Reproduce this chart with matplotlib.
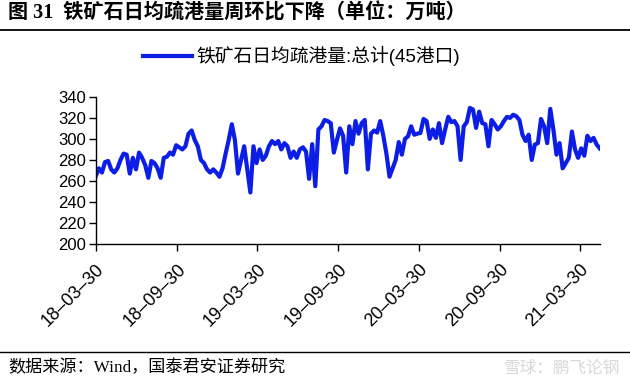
import numpy as np
import pandas as pd
import matplotlib
matplotlib.use('Agg')
import matplotlib.pyplot as plt
import matplotlib.dates as mdates

# weekly iron ore port clearance, 45 ports (10k t/day)
vals_a = [264.5, 272, 268, 278, 279, 271, 268, 272, 280, 286, 285, 267, 282, 271,
          287, 282, 275, 263, 279, 277, 272, 263, 282, 283, 287, 285, 294, 292, 290,
          293, 305, 308, 299, 293, 280, 277, 271, 268, 271, 268, 264, 272, 286, 299,
          314, 299, 267, 280, 293, 271, 249, 293, 277, 290, 280, 284, 293, 298, 295,
          298, 290, 296, 293, 282, 288, 282, 290, 292, 288, 262, 295, 255, 309]
vals_b = [312, 318, 317, 315, 287, 299, 310, 303, 268, 312, 295, 317, 305, 315, 318,
          271, 305, 308, 306, 317, 303, 286, 264, 272, 280]
vals_c = [297, 285, 300, 302.5, 312, 304, 305, 305.7, 319, 317, 300, 309, 301, 315,
          296, 309, 321, 316, 317, 312, 280, 312, 316, 329.5, 328, 310.5, 326, 315,
          314, 293, 318, 314, 309, 312, 317, 321, 320, 323, 321.6, 318, 304, 298, 304,
          280, 294.6, 296, 319, 312, 296, 328.6, 309, 285, 296, 272, 277, 282, 307,
          290, 282, 291, 284, 303, 298, 301, 294.6, 291]
values = vals_a + vals_b + vals_c
dates = pd.date_range('2018-03-30', periods=len(values), freq='7D')

tick_dates = pd.to_datetime(['2018-03-30', '2018-09-30', '2019-03-30', '2019-09-30',
                             '2020-03-30', '2020-09-30', '2021-03-30'])
yticks = np.arange(200, 341, 20)

title = '图 31  铁矿石日均疏港量周环比下降（单位：万吨）'
legend_label = '铁矿石日均疏港量:总计(45港口)'
source = '数据来源：Wind，国泰君安证券研究'

serif_cjk = ['Liberation Serif', 'Noto Sans CJK SC']
sans_cjk = ['Liberation Sans', 'Noto Sans CJK SC']

fig = plt.figure(figsize=(6.3, 3.83), dpi=100)
ax = fig.add_axes([0.152, 0.363, 0.800, 0.384])

ax.plot(dates, values, color='#0c1ee6', lw=3.0, solid_joinstyle='round')
ax.set_xlim(dates[0], dates[-1])
ax.set_ylim(200, 340)
ax.set_yticks(yticks)
ax.set_xticks(tick_dates)
ax.xaxis.set_major_formatter(mdates.DateFormatter('%y\u2013%m\u2013%d'))
for s in ['top', 'right']:
    ax.spines[s].set_visible(False)
for s in ['left', 'bottom']:
    ax.spines[s].set_linewidth(1.0)
ax.tick_params(axis='both', direction='out', length=5, width=1.0, labelsize=12)
ax.tick_params(axis='y', pad=2)
ax.tick_params(axis='x', pad=7, labelsize=13)
for lab in ax.get_yticklabels() + ax.get_xticklabels():
    lab.set_fontfamily('Liberation Sans')
plt.setp(ax.get_xticklabels(), rotation=45, ha='right', rotation_mode='anchor')

# legend at top
leg = ax.legend([ax.lines[0]], [legend_label], loc='upper left',
                bbox_to_anchor=(0.06, 1.46), frameon=False, handlelength=2.6,
                handletextpad=0.25, prop={'family': sans_cjk, 'size': 13.5})
leg.get_lines()[0].set_linewidth(3)

fig.text(0.013, 0.965, title, fontsize=14.5, fontweight='bold',
         family=serif_cjk, va='center')
fig.add_artist(plt.Line2D([0, 1], [0.922, 0.922], color='black', lw=1.3))
fig.add_artist(plt.Line2D([0, 1], [0.081, 0.081], color='black', lw=1.0))
fig.text(0.013, 0.040, source, fontsize=12.3, family=serif_cjk, va='center')
fig.text(0.985, 0.040, '雪球：鹏飞论钢', fontsize=12, family=sans_cjk,
         va='center', ha='right', color='#d8d8d8')

fig.savefig('out.png', dpi=100)
